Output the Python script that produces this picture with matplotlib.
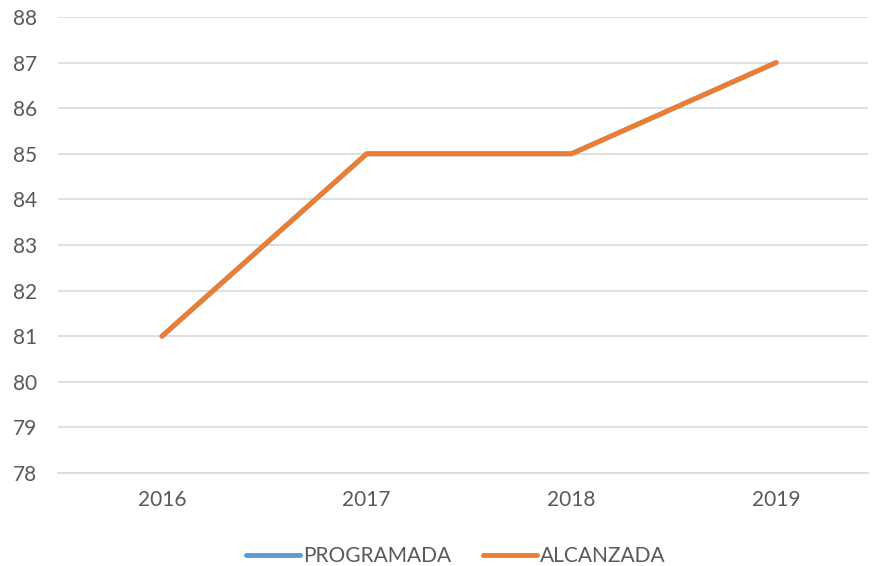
import matplotlib
matplotlib.use("Agg")
import matplotlib.pyplot as plt

years = ["2016", "2017", "2018", "2019"]
programada = [81, 85, 85, 87]
alcanzada = [81, 85, 85, 87]

plt.rcParams['font.family'] = ['Lato', 'DejaVu Sans']

fig = plt.figure(figsize=(8.72, 5.66), dpi=100)
ax = fig.add_axes([58/872, 1-473/566, (868-58)/872, (473-17)/566])

x = list(range(len(years)))
ax.plot(x, programada, color="#5B9BD5", lw=3.5, solid_capstyle="round", label="PROGRAMADA", zorder=3)
ax.plot(x, alcanzada, color="#ED7D31", lw=3.5, solid_capstyle="round", label="ALCANZADA", zorder=4)

ax.set_ylim(78, 88)
ax.set_yticks(range(78, 89))
ax.set_xlim(-0.508, 3.449)
ax.set_xticks(x)
ax.set_xticklabels(years)
ax.grid(axis="y", color="#D9D9D9", lw=1.2)
ax.set_axisbelow(True)
for s in ax.spines.values():
    s.set_visible(False)
ax.spines['bottom'].set_visible(True)
ax.spines['bottom'].set_color("#D9D9D9")
ax.spines['bottom'].set_linewidth(1.2)
ax.tick_params(length=0, labelsize=15, labelcolor="#595959")
ax.tick_params(axis='y', pad=15)
ax.tick_params(axis='x', pad=12)

leg = fig.legend(loc="center", bbox_to_anchor=(456/872, 1-556/566), ncol=2, frameon=False,
                 fontsize=15, labelcolor="#595959", handlelength=2.6, handletextpad=0.15,
                 columnspacing=1.5)

fig.savefig("out.png", dpi=100)
